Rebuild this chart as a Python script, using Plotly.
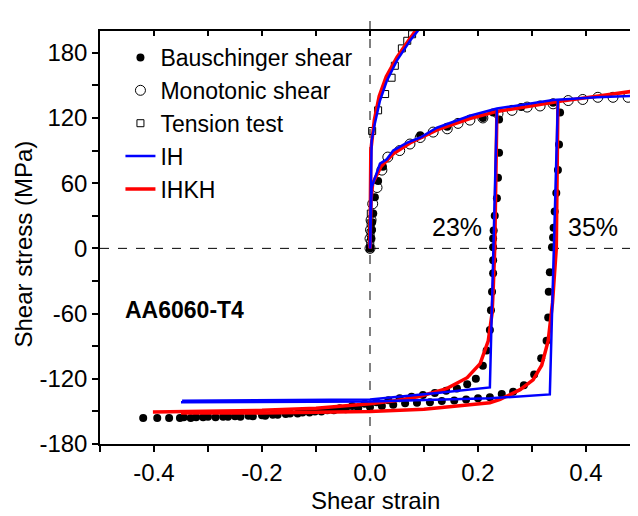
import plotly.graph_objects as go

# ---------------- data ----------------
# Bauschinger shear (filled dots)
baus_fwd_x = [0.0, 0.002, 0.003, 0.004, 0.006, 0.009, 0.015, 0.024, 0.093, 0.143, 0.209, 0.228]
baus_fwd_y = [0, 9, 17, 24, 32, 47, 62, 75, 104, 112, 120, 125]
baus23_x = [0.239, 0.239, 0.237, 0.235, 0.231, 0.229, 0.228, 0.228, 0.228, 0.228, 0.226, 0.224,
            0.222, 0.216, 0.209, 0.196, 0.180, 0.161, 0.141, 0.120, 0.098, 0.077, 0.055, 0.034,
            0.012, -0.010, -0.033, -0.056, -0.079, -0.102, -0.125, -0.148, -0.171, -0.194,
            -0.217, -0.240, -0.263, -0.286, -0.309, -0.332, -0.352, -0.372, -0.394, -0.420]
baus23_y = [118.5, 88, 65, 46, 30, 16.5, 9, 1, -11, -23, -40, -57,
            -75, -94, -108, -120, -125, -129, -131, -133, -135, -136.5, -138, -139.7,
            -141.5, -143, -145, -147, -149, -150, -151, -152, -153, -154,
            -154.5, -155, -155, -155.5, -155.5, -156, -156, -156, -156, -156]
baus35_x = [0.28, 0.339, 0.352, 0.350, 0.348, 0.345, 0.342, 0.340, 0.339, 0.337, 0.333, 0.331,
            0.330, 0.327, 0.317, 0.304, 0.285, 0.265, 0.244, 0.222, 0.200, 0.178, 0.156,
            0.133, 0.111, 0.087, 0.065, 0.043, 0.022, 0.0, -0.022, -0.045, -0.067, -0.090,
            -0.112, -0.134, -0.156, -0.180, -0.200, -0.225, -0.250, -0.272, -0.300, -0.322, -0.345]
baus35_y = [130, 134, 125, 95.5, 72, 51, 34, 19, 10, 1, -22, -40,
            -63.5, -85, -101, -116, -126, -132, -134, -137, -138, -139, -140, -140.5,
            -141.5, -142, -142.5, -144, -145, -146, -147, -148, -149, -150,
            -151, -152, -152.5, -153, -153.5, -154, -154.5, -155, -155, -155.5, -155.5]

# Monotonic shear (open circles)
mono_x = [0.0, 0.0, 0.001, 0.002, 0.005, 0.013, 0.022, 0.033, 0.055, 0.074, 0.093, 0.117, 0.143,
          0.163, 0.185, 0.209, 0.237, 0.263, 0.291, 0.315, 0.339, 0.367, 0.394, 0.422, 0.450, 0.478]
mono_y = [0, 9, 17, 26, 41, 56, 72, 84, 90, 96, 102, 107, 110,
          115, 118, 120, 124, 127, 130, 131, 133, 136, 137, 139, 139, 139]

# Tension test (open squares)
tens_x = [0.0, 0.0005, 0.001, 0.0012, 0.0015, 0.004, 0.015, 0.028, 0.040, 0.046, 0.059, 0.069, 0.078]
tens_y = [0, 5, 14, 23, 32, 108, 127, 142, 157, 168, 184, 191, 197]

# IH model (blue)
ih_mono_x = [0.0, 0.003, 0.0185, 0.031, 0.043, 0.068, 0.093, 0.124, 0.185, 0.235, 0.339, 0.42, 0.5]
ih_mono_y = [0, 56, 78, 82, 90, 97, 102, 111, 122, 128.6, 136.5, 139, 140.6]
ih_tens_x = [0.0, 0.003, 0.009, 0.0185, 0.031, 0.05, 0.074, 0.093]
ih_tens_y = [0, 99, 115, 136, 154, 173, 191, 203]
ih23_x = [0.235, 0.222, 0.124, 0.0, -0.348]
ih23_y = [128, -128, -133, -139, -140.3]
ih35_x = [0.348, 0.333, 0.222, 0.0, -0.35]
ih35_y = [137, -134.4, -138, -141, -141.5]

# IHKH model (red)
ihkh_mono_x = [0.0, 0.002, 0.005, 0.02, 0.043, 0.074, 0.124, 0.185, 0.235, 0.3, 0.348, 0.42, 0.5]
ihkh_mono_y = [0, 45, 60, 75, 87, 97, 109, 119.5, 126, 131.5, 135, 140, 145.5]
ihkh_tens_x = [0.0, 0.0015, 0.008, 0.017, 0.03, 0.05, 0.074, 0.09]
ihkh_tens_y = [0, 90, 118, 140, 158, 176, 193, 204]
ihkh23_x = [0.235, 0.231, 0.228, 0.226, 0.219, 0.204, 0.18, 0.142, 0.093, 0.05, 0.0, -0.1, -0.2, -0.3, -0.402]
ihkh23_y = [126, 0, -40, -60, -85, -106, -119, -129, -136, -140, -143, -147, -149, -150, -150.5]
ihkh35_x = [0.348, 0.345, 0.338, 0.33, 0.318, 0.302, 0.278, 0.241, 0.222, 0.15, 0.1, 0.0, -0.1, -0.2, -0.35]
ihkh35_y = [135, 0, -50, -85, -107.5, -121, -130, -139, -142, -146, -148, -150, -151, -151.5, -151.5]

x_tick_vals = [-0.4, -0.2, 0.0, 0.2, 0.4]
x_tick_text = ["-0.4", "-0.2", "0.0", "0.2", "0.4"]
x_minor_vals = [-0.5, -0.3, -0.1, 0.1, 0.3, 0.5]
y_tick_vals = [-180, -120, -60, 0, 60, 120, 180]
y_tick_text = ["-180", "-120", "-60", "0", "60", "120", "180"]
y_minor_vals = [-150, -90, -30, 30, 90, 150]


def join(*segs):
    xs, ys = [], []
    for sx, sy in segs:
        if xs:
            xs.append(None)
            ys.append(None)
        xs += list(sx)
        ys += list(sy)
    return xs, ys


FONT = "Arial, Liberation Sans, sans-serif"
fig = go.Figure()

bx, by = join((baus_fwd_x, baus_fwd_y), (baus23_x, baus23_y), (baus35_x, baus35_y))
fig.add_trace(go.Scatter(x=bx, y=by, mode="markers", name="Bauschinger shear", legendrank=1,
                         marker=dict(symbol="circle", size=8, color="black")))
fig.add_trace(go.Scatter(x=mono_x, y=mono_y, mode="markers", name="Monotonic shear", legendrank=2,
                         marker=dict(symbol="circle-open", size=10, color="black", line=dict(width=1))))
fig.add_trace(go.Scatter(x=tens_x, y=tens_y, mode="markers", name="Tension test", legendrank=3,
                         marker=dict(symbol="square-open", size=7, color="black", line=dict(width=1))))

rx, ry = join((ihkh_mono_x, ihkh_mono_y), (ihkh_tens_x, ihkh_tens_y),
              (ihkh23_x, ihkh23_y), (ihkh35_x, ihkh35_y))
fig.add_trace(go.Scatter(x=rx, y=ry, mode="lines", name="IHKH", legendrank=5,
                         line=dict(color="#ff0000", width=3.5)))
ux, uy = join((ih_mono_x, ih_mono_y), (ih_tens_x, ih_tens_y), (ih23_x, ih23_y), (ih35_x, ih35_y))
fig.add_trace(go.Scatter(x=ux, y=uy, mode="lines", name="IH", legendrank=4,
                         line=dict(color="#0000ff", width=2.5)))

# dummy for mirrored axes
fig.add_trace(go.Scatter(x=[None], y=[None], xaxis="x2", yaxis="y2", showlegend=False, hoverinfo="skip"))

XR = [-0.5, 0.4963]
YR = [-180, 200]

fig.add_shape(type="line", xref="x", yref="paper", x0=0, x1=0, y0=0, y1=1.046,
              line=dict(color="black", width=1, dash="dash"), layer="below")
fig.add_shape(type="line", xref="paper", yref="y", x0=0, x1=1, y0=0, y1=0,
              line=dict(color="black", width=1, dash="dash"), layer="below")

fig.add_annotation(x=0.161, y=19.3, text="23%", showarrow=False, font=dict(family=FONT, size=25, color="black"))
fig.add_annotation(x=0.413, y=19.3, text="35%", showarrow=False, font=dict(family=FONT, size=25, color="black"))
fig.add_annotation(x=-0.343, y=-57, text="<b>AA6060-T4</b>", showarrow=False,
                   font=dict(family=FONT, size=23, color="black"))
# axis titles
fig.add_annotation(xref="paper", yref="paper", x=0.513, y=-0.138, text="Shear strain", showarrow=False,
                   xanchor="center", yanchor="middle", font=dict(family=FONT, size=24, color="black"))
fig.add_annotation(xref="paper", yref="paper", x=-0.1422, y=0.4843, text="Shear stress (MPa)", showarrow=False,
                   textangle=-90, xanchor="center", yanchor="middle", font=dict(family=FONT, size=24, color="black"))

fig.update_layout(
    width=630, height=508,
    margin=dict(l=92, r=0, t=23, b=72, autoexpand=False),
    plot_bgcolor="white", paper_bgcolor="white",
    font=dict(family=FONT, size=24, color="black"),
    showlegend=True,
    legend=dict(x=0.038, y=0.988, xanchor="left", yanchor="top", bgcolor="rgba(0,0,0,0)",
                font=dict(family=FONT, size=23), borderwidth=0, tracegroupgap=0),
    xaxis=dict(range=XR, showgrid=False, zeroline=False, showline=True, linecolor="black", linewidth=1.5,
               automargin=False,
               ticks="outside", ticklen=6, tickwidth=1.5, tickcolor="black",
               tickmode="array", tickvals=x_tick_vals, ticktext=x_tick_text,
               minor=dict(tickmode="array", tickvals=x_minor_vals, ticks="outside", ticklen=6,
                          tickwidth=1.5, tickcolor="black", showgrid=False),
               tickfont=dict(size=24)),
    yaxis=dict(range=YR, showgrid=False, zeroline=False, showline=True, linecolor="black", linewidth=1.5,
               automargin=False,
               ticks="outside", ticklen=6, tickwidth=1.5, tickcolor="black",
               tickmode="array", tickvals=y_tick_vals, ticktext=y_tick_text,
               minor=dict(tickmode="array", tickvals=y_minor_vals, ticks="outside", ticklen=6,
                          tickwidth=1.5, tickcolor="black", showgrid=False),
               tickfont=dict(size=24)),
    xaxis2=dict(range=XR, overlaying="x", side="top", showgrid=False, zeroline=False, showline=True,
                automargin=False,
                linecolor="black", linewidth=1.5, ticks="inside", ticklen=5, tickwidth=1.5, tickcolor="black",
                tickmode="array", tickvals=x_tick_vals + x_minor_vals, showticklabels=False),
    yaxis2=dict(range=YR, overlaying="y", side="right", showgrid=False, zeroline=False, showline=True,
                automargin=False,
                linecolor="black", linewidth=1.5, ticks="inside", ticklen=5, tickwidth=1.5, tickcolor="black",
                tickmode="array", tickvals=y_tick_vals + y_minor_vals, showticklabels=False),
)

fig.write_html("out.html")
